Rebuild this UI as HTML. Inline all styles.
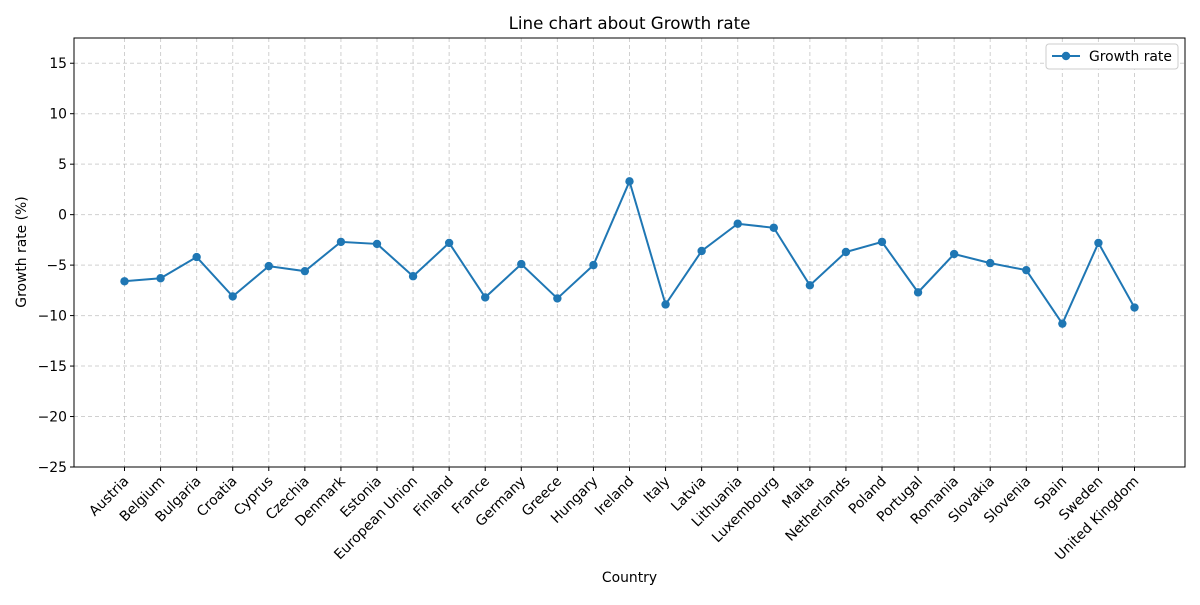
<!DOCTYPE html>
<html><head><meta charset="utf-8"><style>
body{margin:0;background:#fff;}
svg text{font-family:"DejaVu Sans","Liberation Sans",sans-serif;fill:#000;}
</style></head><body>
<svg id="chart" width="1200" height="600" xmlns="http://www.w3.org/2000/svg">
<rect width="1200" height="600" fill="#fff"/>
<g id="grid"></g>
<g id="series"></g>
<rect x="74" y="38" width="1111" height="429" fill="none" stroke="#000" stroke-width="1"/>
<g id="axes"></g>
<text x="629.5" y="29" font-size="16.7" text-anchor="middle">Line chart about Growth rate</text>
<text x="629.5" y="582" font-size="13.9" text-anchor="middle">Country</text>
<text x="26" y="252" font-size="13.9" text-anchor="middle" transform="rotate(-90 26 252)">Growth rate (%)</text>
<g>
<rect x="1046" y="44" width="132" height="25" rx="3" fill="#fff" stroke="#ccc"/>
<line x1="1052" y1="56" x2="1080" y2="56" stroke="#1f77b4" stroke-width="2"/>
<circle cx="1066" cy="56" r="4.2" fill="#1f77b4"/>
<text x="1089" y="61" font-size="13.9">Growth rate</text>
</g>
</svg>
<script>
const categories=["Austria","Belgium","Bulgaria","Croatia","Cyprus","Czechia","Denmark","Estonia","European Union","Finland","France","Germany","Greece","Hungary","Ireland","Italy","Latvia","Lithuania","Luxembourg","Malta","Netherlands","Poland","Portugal","Romania","Slovakia","Slovenia","Spain","Sweden","United Kingdom"];
const values=[-6.6,-6.3,-4.2,-8.1,-5.1,-5.6,-2.7,-2.9,-6.1,-2.8,-8.2,-4.9,-8.3,-5.0,3.3,-8.9,-3.6,-0.9,-1.3,-7.0,-3.7,-2.7,-7.7,-3.9,-4.8,-5.5,-10.8,-2.8,-9.2];
const yTicks=[-25,-20,-15,-10,-5,0,5,10,15];
const L=74,R=1185,T=38,B=467;
const n=categories.length, pad=(n-1)*0.05;
const xMin=-pad,xMax=n-1+pad, yMin=-25,yMax=17.5;
const xs=i=>L+(i-xMin)/(xMax-xMin)*(R-L);
const ys=v=>B-(v-yMin)/(yMax-yMin)*(B-T);
const NS="http://www.w3.org/2000/svg";
function mk(tag,attrs,parent){const e=document.createElementNS(NS,tag);for(const k in attrs)e.setAttribute(k,attrs[k]);parent.appendChild(e);return e;}
const grid=document.getElementById('grid'),axes=document.getElementById('axes'),ser=document.getElementById('series');
categories.forEach((c,i)=>{
 const x=xs(i);
 const g=mk('line',{x1:x,x2:x,y1:T,y2:B,stroke:'#b0b0b0','stroke-opacity':0.6,'stroke-dasharray':'4,3','stroke-width':1},grid);
 
 
 const t=mk('line',{x1:x,x2:x,y1:B,y2:B+4,stroke:'#000'},axes);
 
 
 const lb=mk('text',{x:x+5,y:B+15,'font-size':13.9,'text-anchor':'end',transform:`rotate(-45 ${x+5} ${B+15})`},axes);
 lb.textContent=c;
 
 
});
yTicks.forEach(v=>{
 const y=ys(v);
 const g=mk('line',{x1:L,x2:R,y1:y,y2:y,stroke:'#b0b0b0','stroke-opacity':0.6,'stroke-dasharray':'4,3','stroke-width':1},grid);
 
 
 const t=mk('line',{x1:L-4,x2:L,y1:y,y2:y,stroke:'#000'},axes);
 
 
 const lb=mk('text',{x:L-7,y:y+5,'font-size':13.9,'text-anchor':'end'},axes);
 lb.textContent=v<0?'\u2212'+Math.abs(v):String(v);
 
 
});
const pl=mk('polyline',{points:values.map((v,i)=>xs(i)+','+ys(v)).join(' '),fill:'none',stroke:'#1f77b4','stroke-width':2},ser);


values.forEach((v,i)=>{
 const c=mk('circle',{cx:xs(i),cy:ys(v),r:4.2,fill:'#1f77b4'},ser);
 
 
});
</script>
</body></html>
